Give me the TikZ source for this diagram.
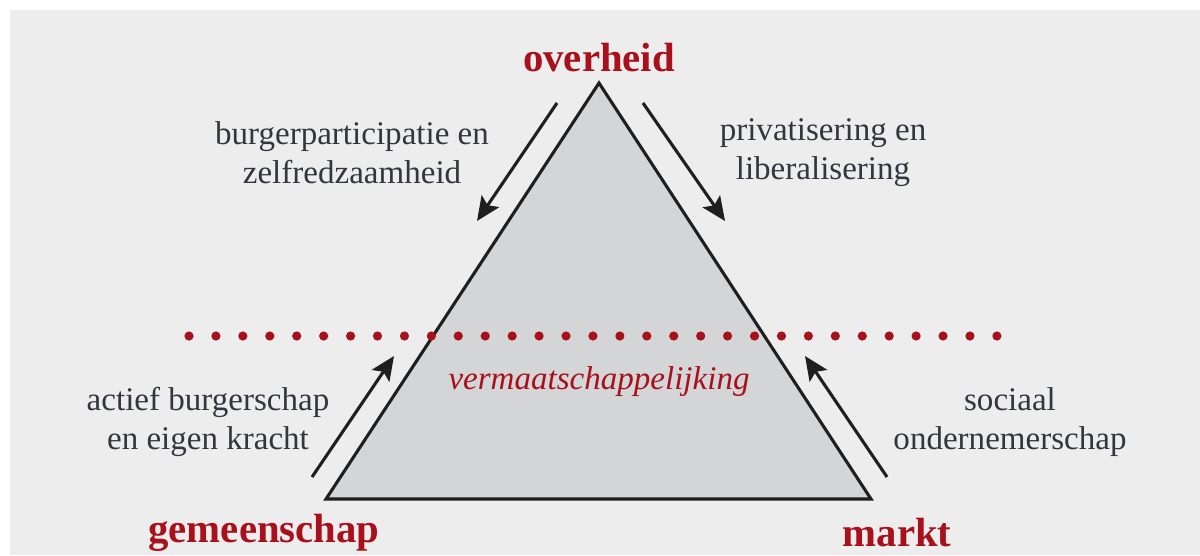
\documentclass[tikz,border=0pt]{standalone}
\usepackage{fontspec}
\setmainfont{Liberation Serif}
\usepackage{xcolor}
\usetikzlibrary{arrows.meta}
\definecolor{bggray}{HTML}{EDEDEE}
\definecolor{trigray}{HTML}{D4D5D7}
\definecolor{darkred}{HTML}{A8101C}
\definecolor{textgray}{HTML}{33363D}
\tikzstyle{corner} = [text=darkred, inner sep=0pt, font=\fontsize{29}{34}\selectfont\bfseries]
\tikzstyle{side} = [text=textgray, align=center, font=\fontsize{23.5}{27.7}\selectfont]
\tikzstyle{pusharrow} = [line width=2.2pt, draw=black!88, -{Stealth[length=17pt, width=15pt, inset=3.5pt]}]
\begin{document}
\begin{tikzpicture}[x=0.025cm, y=-0.025cm]
        \useasboundingbox (0,0) rectangle (1200,555);
        \fill[bggray] (10,10) rectangle (1200,555);

        % triangle
        \coordinate (top) at (599,83);
        \coordinate (left) at (326,499);
        \coordinate (right) at (871,499);
        \draw[fill=trigray, draw=black!88, line width=2.2pt, line join=miter] (top) -- (left) -- (right) -- cycle;

        % dotted line
        \foreach \i in {0,...,30}
            \fill[darkred] (189+\i*26.93,336) circle (0.115cm);

        \draw (599,58) node[corner] (overheid) {overheid};
        \draw (264,533) node[corner] (gemeenschap) {gemeenschap};
        \draw (897,533) node[corner] (markt) {markt};

        \draw (599,382) node[text=darkred, font=\fontsize{23.5}{27.7}\selectfont\itshape] (vm) {vermaatschappelijking};

        \draw (352,153) node[side] (burger) {burgerparticipatie en\\zelfredzaamheid};
        \draw (823,153) node[side] (priv) {privatisering en\\liberalisering};
        \draw (208,422) node[side] (actief) {actief burgerschap\\en eigen kracht};
        \draw (1010,422) node[side] (sociaal) {sociaal\\ondernemerschap};

        % Arrows
        \coordinate (a1) at (557,103);
        \coordinate (b1) at (477,221);
        \coordinate (a2) at (643,103);
        \coordinate (b2) at (725,221);
        \coordinate (a3) at (312,477);
        \coordinate (b3) at (394,356);
        \coordinate (a4) at (887,477);
        \coordinate (b4) at (805,356);
        \draw[pusharrow] (a1) -- (b1);
        \draw[pusharrow] (a2) -- (b2);
        \draw[pusharrow] (a3) -- (b3);
        \draw[pusharrow] (a4) -- (b4);
    \end{tikzpicture}
\end{document}
